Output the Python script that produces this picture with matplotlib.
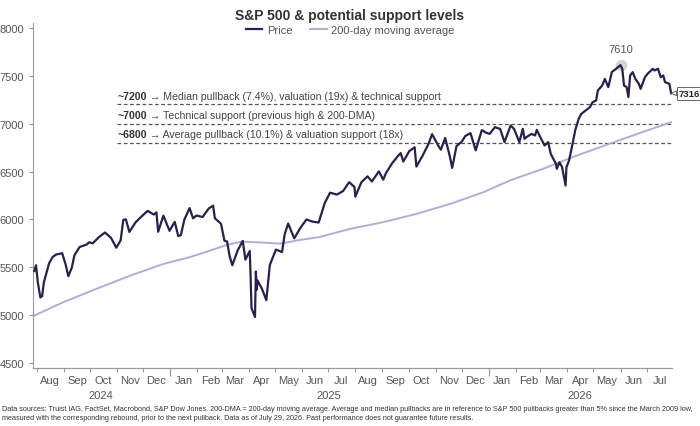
import matplotlib
matplotlib.use("Agg")
import matplotlib.pyplot as plt
import numpy as np
import pandas as pd

plt.rcParams['font.family'] = ['Liberation Sans', 'DejaVu Sans']

# S&P 500 price (approx. weekly plus turning points)
price_dates = [
    "2024-07-29", "2024-07-31", "2024-08-02", "2024-08-05", "2024-08-07", "2024-08-09",
    "2024-08-15", "2024-08-19", "2024-08-23", "2024-08-30", "2024-09-03", "2024-09-06",
    "2024-09-10", "2024-09-13", "2024-09-19", "2024-09-27", "2024-09-30", "2024-10-04",
    "2024-10-11", "2024-10-18", "2024-10-25", "2024-10-31", "2024-11-05", "2024-11-08",
    "2024-11-11", "2024-11-15", "2024-11-22", "2024-11-29", "2024-12-06", "2024-12-13",
    "2024-12-16", "2024-12-18", "2024-12-24", "2024-12-31",
    "2025-01-06", "2025-01-10", "2025-01-13", "2025-01-17", "2025-01-23", "2025-01-27",
    "2025-01-31", "2025-02-07", "2025-02-14", "2025-02-19", "2025-02-21", "2025-02-28",
    "2025-03-04", "2025-03-07", "2025-03-10", "2025-03-13", "2025-03-19", "2025-03-25",
    "2025-03-28", "2025-04-02", "2025-04-03", "2025-04-04", "2025-04-08", "2025-04-09",
    "2025-04-10", "2025-04-11", "2025-04-16", "2025-04-21", "2025-04-25", "2025-05-02",
    "2025-05-09", "2025-05-12", "2025-05-16", "2025-05-23", "2025-05-30", "2025-06-06",
    "2025-06-13", "2025-06-20", "2025-06-27", "2025-07-03", "2025-07-11", "2025-07-18",
    "2025-07-25", "2025-07-31", "2025-08-01", "2025-08-08", "2025-08-15", "2025-08-20",
    "2025-08-28", "2025-09-02", "2025-09-05", "2025-09-12", "2025-09-19", "2025-09-22",
    "2025-09-25", "2025-10-02", "2025-10-08", "2025-10-10", "2025-10-17", "2025-10-24",
    "2025-10-28", "2025-10-31", "2025-11-04", "2025-11-07", "2025-11-12", "2025-11-17",
    "2025-11-20", "2025-11-25", "2025-12-01", "2025-12-05", "2025-12-11", "2025-12-17",
    "2025-12-24", "2025-12-29",
    "2026-01-02", "2026-01-08", "2026-01-14", "2026-01-19", "2026-01-26", "2026-01-30",
    "2026-02-05", "2026-02-09", "2026-02-11", "2026-02-13", "2026-02-19", "2026-02-23",
    "2026-02-25", "2026-03-02", "2026-03-06", "2026-03-10", "2026-03-13", "2026-03-19",
    "2026-03-20", "2026-03-23", "2026-03-26", "2026-03-30", "2026-03-31", "2026-04-03",
    "2026-04-07", "2026-04-10", "2026-04-14", "2026-04-17", "2026-04-22", "2026-04-27",
    "2026-04-30", "2026-05-04", "2026-05-06", "2026-05-11", "2026-05-14", "2026-05-18",
    "2026-05-22", "2026-05-29", "2026-06-01", "2026-06-03", "2026-06-05", "2026-06-08",
    "2026-06-10", "2026-06-12", "2026-06-15", "2026-06-18", "2026-06-22", "2026-06-24",
    "2026-06-29", "2026-07-02", "2026-07-08", "2026-07-10", "2026-07-14", "2026-07-17",
    "2026-07-20", "2026-07-22", "2026-07-27", "2026-07-29",
]
price_vals = [
    5463, 5522, 5346, 5186, 5199, 5344,
    5543, 5608, 5634, 5648, 5529, 5408,
    5496, 5626, 5713, 5738, 5762, 5751,
    5815, 5864, 5808, 5705, 5782, 5995,
    6001, 5870, 5969, 6032, 6090, 6051,
    6074, 5872, 6040, 5882,
    5975, 5827, 5836, 5997, 6119, 6012,
    6041, 6026, 6115, 6144, 6013, 5955,
    5778, 5770, 5614, 5522, 5675, 5776,
    5581, 5671, 5397, 5074, 4982, 5457,
    5268, 5363, 5276, 5158, 5525, 5686,
    5660, 5844, 5958, 5803, 5912, 6000,
    5977, 5968, 6173, 6279, 6260, 6297,
    6389, 6339, 6238, 6389, 6450, 6396,
    6502, 6415, 6482, 6584, 6664, 6693,
    6604, 6715, 6753, 6552, 6664, 6791,
    6890, 6840, 6772, 6728, 6850, 6672,
    6538, 6766, 6812, 6870, 6901, 6721,
    6932, 6905,
    6893, 6963, 6945, 6807, 6980, 6945,
    6807, 6946, 6841, 6858, 6893, 6876,
    6935, 6841, 6772, 6807, 6685, 6580,
    6528, 6597, 6546, 6354, 6546, 6615,
    6789, 6928, 7050, 7102, 7137, 7172,
    7224, 7241, 7346, 7398, 7467, 7381,
    7537, 7589, 7610, 7572, 7398, 7381,
    7277, 7502, 7537, 7467, 7415, 7363,
    7485, 7520, 7572, 7555, 7572, 7485,
    7502, 7433, 7415, 7316,
]

# 200-day moving average
ma_dates = [
    "2024-07-29", "2024-08-31", "2024-10-08", "2024-11-16", "2024-12-24", "2025-01-23",
    "2025-02-04", "2025-03-07", "2025-03-24", "2025-04-15", "2025-05-07", "2025-06-01",
    "2025-06-20", "2025-07-26", "2025-09-02", "2025-10-10", "2025-11-18", "2025-12-26",
    "2026-01-25", "2026-03-04", "2026-04-07", "2026-05-19", "2026-06-26", "2026-07-29",
]
ma_vals = [
    4997, 5136, 5275, 5414, 5536, 5606,
    5641, 5735, 5769, 5760, 5748, 5790,
    5815, 5902, 5972, 6058, 6163, 6285,
    6406, 6528, 6650, 6789, 6911, 7015,
]

levels = [7200, 7000, 6800]
level_bold = ["~7200", "~7000", "~6800"]
level_text = [
    " \u2192 Median pullback (7.4%), valuation (19x) & technical support",
    " \u2192 Technical support (previous high & 200-DMA)",
    " \u2192 Average pullback (10.1%) & valuation support (18x)",
]

peak_date, peak_val = "2026-06-01", 7610
last_val = 7316

footer = ("Data sources: Truist IAG, FactSet, Macrobond, S&P Dow Jones. 200-DMA = 200-day moving average. "
          "Average and median pullbacks are in reference to S&P 500 pullbacks greater than 5% since the March 2009 low,\n"
          "measured with the corresponding rebound, prior to the next pullback. Data as of July 29, 2026. "
          "Past performance does not guarantee future results.")

px = pd.to_datetime(price_dates)
mx = pd.to_datetime(ma_dates)

PRICE_C = "#2b1f4e"
MA_C = "#b3acd4"
GREY = "#555555"

fig = plt.figure(figsize=(7, 4.27), dpi=100)
ax = fig.add_axes([0.0471, 0.1358, 0.9129, 0.808])

ax.plot(mx, ma_vals, color=MA_C, lw=1.4, label="200-day moving average", zorder=2)
ax.plot(px, price_vals, color=PRICE_C, lw=1.6, label="Price", zorder=3)

ax.set_xlim(pd.Timestamp("2024-07-27 12:00"), pd.Timestamp("2026-07-30"))
ax.set_ylim(4450, 8050)

# support levels
line_start = pd.Timestamp("2024-11-01")
for lv, b, t in zip(levels, level_bold, level_text):
    ax.plot([line_start, px[-1]], [lv, lv], color=GREY, lw=0.9, ls=(0, (3, 2)), zorder=1)
    tb = ax.text(line_start, lv + 40, b, fontsize=7.6, fontweight="bold", color="#333333",
                 va="bottom", ha="left")
    fig.canvas.draw()
    bb = tb.get_window_extent()
    x_end = ax.transData.inverted().transform((bb.x1, bb.y0))[0]
    ax.text(x_end, lv + 40, t, fontsize=7.6, color="#444444", va="bottom", ha="left")

# peak marker
ax.scatter([pd.Timestamp(peak_date)], [peak_val], s=70, color="#d4d4d4", zorder=2.5, lw=0)
ax.annotate(f"{peak_val}", (pd.Timestamp(peak_date), peak_val), xytext=(0, 8),
            textcoords="offset points", ha="center", va="bottom", fontsize=8, color=GREY)

# last value callout
ax.annotate(f"{last_val}", (px[-1], last_val), xytext=(5.5, 0), textcoords="offset points",
            ha="left", va="center", fontsize=6.8, fontweight="bold", color="#222222",
            annotation_clip=False,
            bbox=dict(boxstyle="square,pad=0.2", fc="white", ec="#666666", lw=0.7),
            arrowprops=dict(arrowstyle="wedge,tail_width=0.5,shrink_factor=0.5", fc="white",
                            ec="#666666", lw=0.7, shrinkA=0, shrinkB=0))

# axes styling
for s in ["top", "right"]:
    ax.spines[s].set_visible(False)
ax.spines["left"].set_color("#999999")
ax.spines["bottom"].set_color("#999999")
ax.set_yticks(np.arange(4500, 8001, 500))
ax.tick_params(axis="y", labelsize=8, colors="#999999", labelcolor=GREY, length=3, width=0.8)

month_starts = pd.date_range("2024-08-01", "2026-07-01", freq="MS")
mid_months = month_starts + pd.Timedelta(days=15)
ax.set_xticks(month_starts)
ax.set_xticklabels([])
ax.set_xticks(mid_months, minor=True)
ax.set_xticklabels([d.strftime("%b") for d in mid_months], minor=True)
ax.tick_params(axis="x", which="major", length=3, color="#999999", width=0.8)
ax.tick_params(axis="x", which="minor", length=0, labelsize=8, labelcolor=GREY, pad=5)

sec = ax.secondary_xaxis("bottom")
sec.spines["bottom"].set_color("#999999")
year_starts = pd.to_datetime(["2025-01-01", "2026-01-01"])
year_mid = pd.to_datetime(["2024-10-13", "2025-07-02", "2026-04-15"])
sec.set_xticks(year_starts)
sec.set_xticklabels([])
sec.set_xticks(year_mid, minor=True)
sec.set_xticklabels(["2024", "2025", "2026"], minor=True)
sec.tick_params(axis="x", which="major", length=6, color="#999999", width=0.8)
sec.tick_params(axis="x", which="minor", length=0, labelsize=8, labelcolor=GREY, pad=16)

fig.text(0.5, 0.962, "S&P 500 & potential support levels", ha="center", va="center",
         fontsize=10, fontweight="bold", color="#333333")
h, l = ax.get_legend_handles_labels()
fig.legend(h[::-1], l[::-1], loc="center", bbox_to_anchor=(0.5, 0.927), ncol=2, frameon=False,
           fontsize=8, handlelength=1.5, handletextpad=0.4, columnspacing=1.6,
           labelcolor=GREY, borderaxespad=0)

fig.text(0.003, 0.012, footer, ha="left", va="bottom", fontsize=5.2, color="#333333",
         linespacing=1.45)

fig.savefig("out.png", dpi=100)
